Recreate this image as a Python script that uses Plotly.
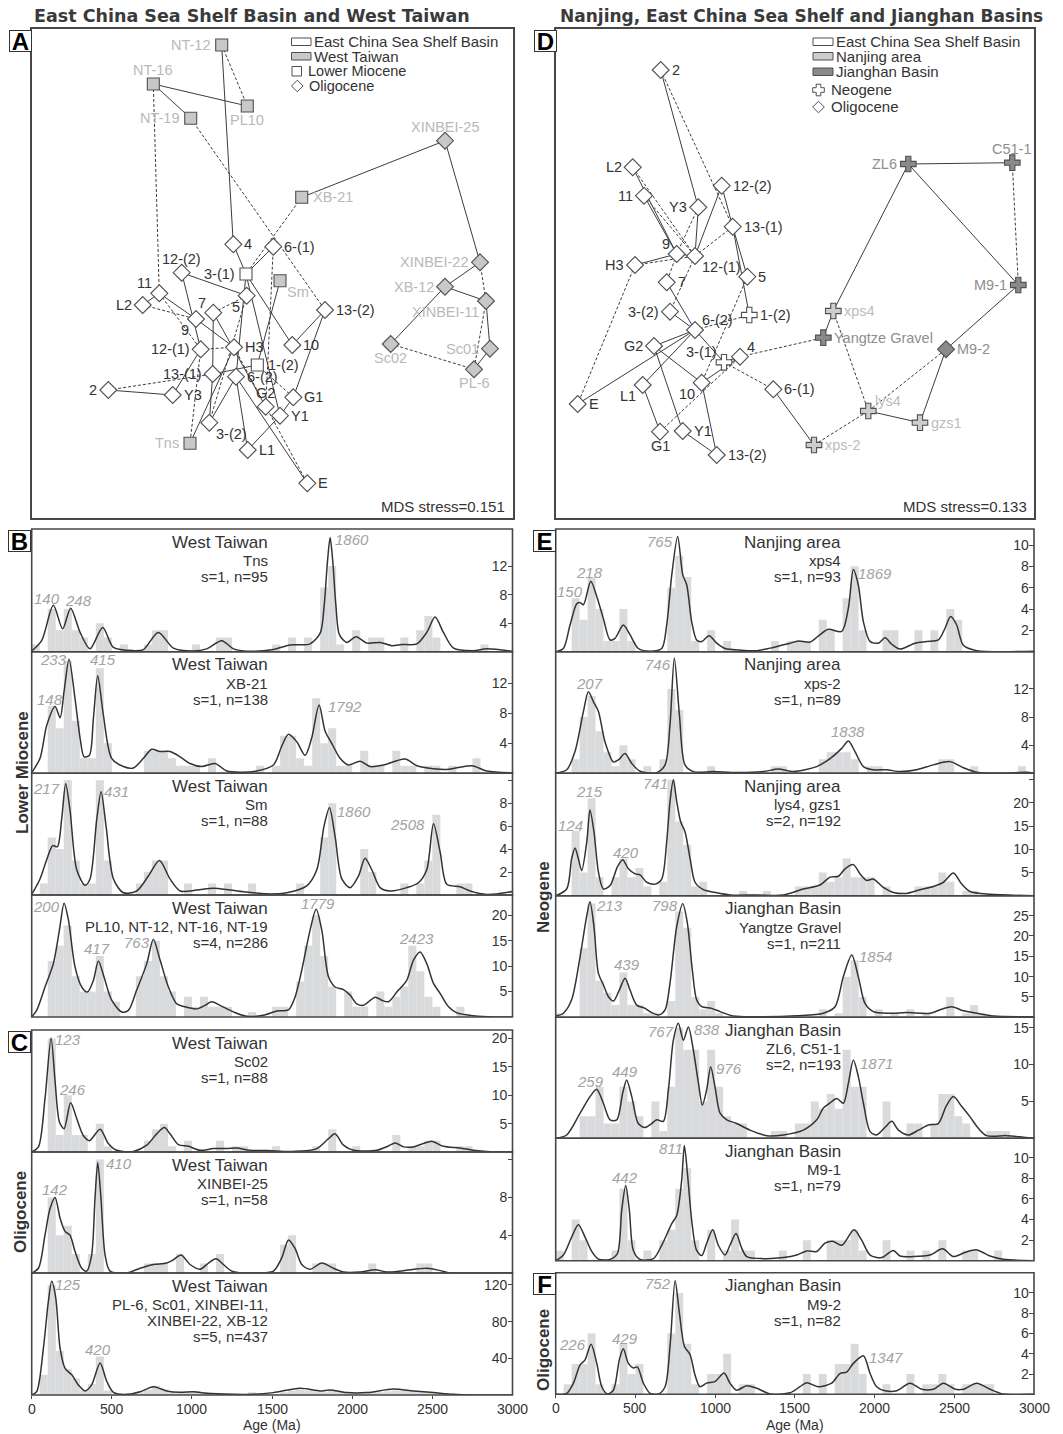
import plotly.graph_objects as go

W, H = 1063, 1434
FONT = "Liberation Sans, Arial, Helvetica, sans-serif"
TITLE_FONT = "DejaVu Sans, Liberation Sans, Arial, sans-serif"
INK = "#333333"
FRAME = "#474747"
BAR = "#d9dadc"
PEAK = "#a3a3a3"

# ---------------- MDS data (coordinates) ----------------
# (label, dim1, dim2, group, era-symbol, label position)
A_POINTS = [
    ("NT-12", 221.7, 45, "WT", "square", "l"),
    ("NT-16", 153.3, 84, "WT", "square", "t"),
    ("PL10", 247.3, 106, "WT", "square", "b"),
    ("NT-19", 190.7, 118.3, "WT", "square", "l"),
    ("XINBEI-25", 445, 140.7, "WT", "diamond", "t"),
    ("XB-21", 301.7, 197.3, "WT", "square", "r"),
    ("4", 233.3, 244.3, "ECS", "diamond", "r"),
    ("6-(1)", 273.3, 246.7, "ECS", "diamond", "r"),
    ("XINBEI-22", 480, 262.3, "WT", "diamond", "l"),
    ("12-(2)", 181.7, 272.7, "ECS", "diamond", "t"),
    ("3-(1)", 246, 274, "ECS", "square", "l"),
    ("Sm", 280, 280.7, "WT", "square", "br"),
    ("XB-12", 445, 286.7, "WT", "diamond", "l"),
    ("11", 159.3, 293.3, "ECS", "diamond", "tl"),
    ("5", 246.7, 295.7, "ECS", "diamond", "bl"),
    ("XINBEI-11", 486, 301, "WT", "diamond", "bl"),
    ("L2", 142.7, 305, "ECS", "diamond", "l"),
    ("13-(2)", 325, 310, "ECS", "diamond", "r"),
    ("7", 213.3, 312.7, "ECS", "diamond", "tl"),
    ("9", 196, 319, "ECS", "diamond", "bl"),
    ("Sc02", 390.7, 344, "WT", "diamond", "b"),
    ("10", 292.3, 345, "ECS", "diamond", "r"),
    ("H3", 234, 347.3, "ECS", "diamond", "r"),
    ("12-(1)", 200.7, 349.3, "ECS", "diamond", "l"),
    ("Sc01", 490, 348.7, "WT", "diamond", "l"),
    ("1-(2)", 257.3, 365, "ECS", "square", "r"),
    ("PL-6", 474, 369.3, "WT", "diamond", "b"),
    ("13-(1)", 212.7, 374, "ECS", "diamond", "l"),
    ("6-(2)", 236, 376.7, "ECS", "diamond", "r"),
    ("2", 108.3, 390, "ECS", "diamond", "l"),
    ("Y3", 172.7, 395, "ECS", "diamond", "r"),
    ("G1", 293.3, 397.3, "ECS", "diamond", "r"),
    ("G2", 265.7, 406.7, "ECS", "diamond", "t"),
    ("Y1", 280, 415.7, "ECS", "diamond", "r"),
    ("3-(2)", 209.3, 422.7, "ECS", "diamond", "br"),
    ("Tns", 190, 443.3, "WT", "square", "l"),
    ("L1", 247.7, 450, "ECS", "diamond", "r"),
    ("E", 307.3, 483.3, "ECS", "diamond", "r"),
]
A_SOLID = [("NT-12", "4"), ("NT-16", "PL10"), ("NT-16", "NT-19"), ("XINBEI-25", "XB-21"),
           ("XINBEI-25", "XINBEI-22"), ("4", "3-(1)"), ("6-(1)", "3-(1)"), ("12-(2)", "5"),
           ("12-(2)", "12-(1)"), ("11", "L2"), ("11", "9"), ("9", "H3"), ("7", "13-(1)"),
           ("7", "G2"), ("3-(1)", "10"), ("3-(1)", "Y1"), ("Sm", "1-(2)"), ("13-(2)", "10"),
           ("13-(2)", "G1"), ("13-(1)", "1-(2)"), ("13-(1)", "3-(2)"), ("6-(2)", "3-(2)"),
           ("6-(2)", "L1"), ("6-(2)", "E"), ("2", "Y3"), ("Y3", "12-(1)"), ("Tns", "H3"),
           ("G1", "Y1"), ("Y1", "L1"), ("XB-12", "XINBEI-22"), ("XB-12", "XINBEI-11"),
           ("XB-12", "Sc02"), ("XINBEI-11", "Sc01"), ("Sc01", "PL-6"), ("3-(1)", "6-(2)")]
A_DASHED = [("NT-12", "PL10"), ("NT-16", "11"), ("NT-19", "13-(2)"), ("XB-21", "3-(1)"),
            ("6-(1)", "G2"), ("L2", "9"), ("11", "12-(1)"), ("7", "5"), ("12-(1)", "H3"),
            ("12-(1)", "Tns"), ("H3", "E"), ("2", "13-(1)"), ("XINBEI-22", "XINBEI-11"),
            ("XINBEI-11", "PL-6"), ("Sc02", "PL-6"), ("5", "3-(2)"), ("1-(2)", "G1")]

D_POINTS = [
    ("2", 660.7, 70, "ECS", "diamond", "r"),
    ("C51-1", 1012.3, 162.7, "JH", "cross", "t"),
    ("ZL6", 908.3, 164, "JH", "cross", "l"),
    ("L2", 632.7, 167.3, "ECS", "diamond", "l"),
    ("12-(2)", 721.7, 185.7, "ECS", "diamond", "r"),
    ("11", 644, 195.7, "ECS", "diamond", "l"),
    ("Y3", 698.3, 207.3, "ECS", "diamond", "l"),
    ("13-(1)", 732.7, 226.7, "ECS", "diamond", "r"),
    ("9", 676.7, 254, "ECS", "diamond", "tl"),
    ("12-(1)", 695, 256, "ECS", "diamond", "br"),
    ("H3", 635, 265, "ECS", "diamond", "l"),
    ("5", 747.3, 276.7, "ECS", "diamond", "r"),
    ("M9-1", 1018.3, 285, "JH", "cross", "l"),
    ("7", 666.7, 282.3, "ECS", "diamond", "r"),
    ("xps4", 833.3, 311, "NJ", "cross", "r"),
    ("3-(2)", 670, 311.7, "ECS", "diamond", "l"),
    ("1-(2)", 749.3, 315, "ECS", "cross", "r"),
    ("6-(2)", 695, 330, "ECS", "diamond", "tr"),
    ("Yangtze Gravel", 823.3, 337.7, "JH", "cross", "r"),
    ("G2", 654, 346, "ECS", "diamond", "l"),
    ("M9-2", 946, 349.3, "JH", "diamond", "r"),
    ("4", 740, 356.7, "ECS", "diamond", "tr"),
    ("3-(1)", 724, 362.3, "ECS", "cross", "tl"),
    ("10", 701.7, 382.7, "ECS", "diamond", "bl"),
    ("L1", 642.7, 385, "ECS", "diamond", "bl"),
    ("6-(1)", 773.3, 389.3, "ECS", "diamond", "r"),
    ("E", 577.7, 404, "ECS", "diamond", "r"),
    ("lys4", 868.3, 411, "NJ", "cross", "tr"),
    ("gzs1", 920, 422.7, "NJ", "cross", "r"),
    ("G1", 660, 431.7, "ECS", "diamond", "b"),
    ("Y1", 682.7, 431, "ECS", "diamond", "r"),
    ("xps-2", 814, 445, "NJ", "cross", "r"),
    ("13-(2)", 716.7, 455, "ECS", "diamond", "r"),
]
D_SOLID = [("2", "Y3"), ("L2", "9"), ("Y3", "12-(1)"), ("12-(2)", "12-(1)"), ("12-(2)", "13-(1)"),
           ("13-(1)", "5"), ("13-(1)", "1-(2)"), ("H3", "9"), ("9", "12-(1)"), ("7", "6-(2)"),
           ("3-(2)", "6-(2)"), ("6-(2)", "3-(1)"), ("6-(2)", "G2"), ("6-(2)", "L1"), ("6-(2)", "E"),
           ("G2", "10"), ("G2", "Y1"), ("L1", "G1"), ("Y1", "13-(2)"), ("10", "4"),
           ("10", "13-(2)"), ("3-(1)", "4"), ("6-(1)", "xps-2"), ("xps4", "Yangtze Gravel"),
           ("xps4", "ZL6"), ("lys4", "gzs1"), ("gzs1", "M9-2"), ("M9-2", "M9-1"),
           ("ZL6", "M9-1"), ("ZL6", "C51-1"), ("11", "9")]
D_DASHED = [("2", "13-(1)"), ("L2", "12-(1)"), ("11", "12-(1)"), ("Y3", "9"), ("13-(1)", "12-(1)"),
            ("H3", "12-(1)"), ("H3", "E"), ("9", "7"), ("12-(1)", "3-(2)"), ("5", "10"),
            ("6-(2)", "1-(2)"), ("G1", "4"), ("4", "Yangtze Gravel"), ("3-(1)", "6-(1)"),
            ("xps-2", "lys4"), ("xps4", "lys4"), ("lys4", "M9-2"), ("C51-1", "M9-1")]

GROUP_FILL = {"ECS": "#ffffff", "WT": "#c8c8c8", "NJ": "#cdcdcd", "JH": "#8a8a8a"}
GROUP_TEXT = {"ECS": INK, "WT": "#b9b9b9", "NJ": "#bcbcbc", "JH": "#8e8e8e"}

# ---------------- KDE / histogram data ----------------
# curves: (age Ma, density in counts); histograms: {50-Ma bin index: count}
TNS_CURVE = [(0,0.1),(62,1.55),(135,6.5),(193,3.2),(243,6.1),(302,2.7),(364,0.4),(443,3.4),(510,0.6),(635,0.15),(697,0.3),(790,2.7),(884,0.5),(1009,0.1),(1092,0.4),(1186,1.55),(1259,0.4),(1383,0.05),(1508,0.3),(1612,0.95),(1737,1.1),(1800,2.6),(1825,6.5),(1845,12.5),(1862,16.0),(1878,12.8),(1898,6.5),(1920,2.4),(1966,1.3),(2024,2.1),(2091,1.2),(2174,1.3),(2247,0.85),(2309,1.0),(2403,1.1),(2465,2.7),(2517,4.85),(2569,2.7),(2632,0.5),(2756,0.15),(2840,0.4),(3000,0.05)]
TNS_HIST = {0:1,2:6,3:3,4:6,5:3,6:2,8:4,9:2,11:1,14:1,15:3,16:3,20:1,23:2,24:2,30:1,32:2,34:2,36:9,37:12,38:1,40:3,42:2,43:2,46:2,48:3,49:5,50:2,56:1}

XB21_CURVE = [(0,0.1),(52,2.0),(94,6.4),(146,8.9),(177,7.4),(202,10.9),(233,15.2),(270,10.0),(302,4.7),(327,2.2),(360,2.4),(385,7.3),(412,13.0),(447,7.8),(499,2.0),(572,0.9),(634,0.7),(697,2.0),(749,3.2),(801,2.9),(863,2.9),(926,2.2),(988,1.3),(1061,0.9),(1144,1.3),(1217,0.3),(1300,0.13),(1404,0.3),(1508,1.1),(1560,3.6),(1602,5.2),(1654,4.2),(1706,2.4),(1747,4.7),(1793,9.1),(1831,5.6),(1872,4.0),(1924,2.0),(1976,1.1),(2049,1.6),(2112,0.9),(2195,1.1),(2330,1.9),(2403,1.0),(2507,0.6),(2590,0.5),(2746,1.0),(2840,0.3),(3000,0.05)]
XB21_HIST = {2:9,3:6,4:15,5:7,6:2,7:2,8:14,9:4,14:3,15:3,16:3,17:2,18:1,19:1,20:1,22:2,28:1,30:1,31:5,32:5,33:2,34:1,35:10,36:4,37:6,38:1,39:1,41:3,42:1,43:1,45:3,46:1,47:1,49:1,50:1,52:1,55:2}

SM_CURVE = [(0,0.05),(52,1.4),(94,3.1),(131,4.3),(160,4.2),(187,6.6),(212,9.7),(239,7.4),(281,2.2),(333,0.85),(364,1.4),(406,6.6),(433,9.0),(464,6.0),(510,1.4),(572,0.2),(655,0.35),(728,1.65),(797,3.0),(863,1.4),(926,0.35),(1030,0.43),(1134,0.58),(1238,0.43),(1342,0.26),(1467,0.1),(1591,0.2),(1716,0.8),(1779,2.2),(1824,6.0),(1858,7.6),(1893,5.1),(1935,1.4),(1987,0.64),(2039,1.65),(2080,3.2),(2122,2.2),(2174,0.64),(2236,0.35),(2340,0.64),(2413,1.07),(2465,2.2),(2507,6.2),(2549,3.7),(2590,0.93),(2673,0.72),(2736,0.35),(2840,0.05),(3000,0.3)]
SM_HIST = {1:1,2:5,3:4,4:10,5:3,6:1,7:1,8:10,9:3,13:1,14:2,15:3,16:3,19:1,22:1,24:1,27:1,33:1,36:5,37:8,41:4,42:2,46:1,48:1,49:3,50:7,53:1,54:1}

PL10_CURVE = [(0,0),(31,1.3),(83,5.9),(135,10.5),(173,17.1),(202,22.4),(229,19.1),(270,9.9),(312,5.9),(347,4.9),(385,7.2),(416,11.0),(451,7.9),(499,3.3),(562,1.0),(603,1.3),(655,5.3),(718,10.5),(759,15.3),(801,11.2),(853,5.9),(905,2.6),(957,2.0),(1030,1.6),(1082,2.3),(1123,3.0),(1175,2.3),(1259,1.0),(1342,0.13),(1446,0.33),(1529,1.2),(1602,1.4),(1643,3.9),(1685,9.2),(1737,17.1),(1775,21.2),(1810,17.1),(1852,7.9),(1893,5.9),(1945,5.4),(1987,4.3),(2028,2.6),(2070,2.3),(2143,3.9),(2184,3.3),(2226,3.0),(2278,4.9),(2340,7.2),(2382,11.2),(2424,12.8),(2465,10.5),(2507,6.6),(2549,4.6),(2601,2.0),(2653,0.8),(2756,0.26),(2881,0),(3000,0)]
PL10_HIST = {2:11,3:14,4:18,5:8,6:5,7:5,8:12,9:5,10:3,13:8,14:11,15:15,16:8,17:5,19:4,20:2,21:4,22:2,23:2,24:2,27:1,30:2,31:2,33:7,34:14,35:20,36:12,37:6,39:5,40:2,41:2,43:5,44:2,45:4,46:6,47:14,48:9,49:4,50:2,53:2}

SC02_CURVE = [(0,0),(42,0.9),(83,9.4),(121,20.1),(146,12.4),(173,5.3),(202,4.1),(243,8.7),(281,5.9),(322,2.9),(360,2.0),(427,4.0),(478,1.5),(530,0.3),(634,0.1),(718,1.2),(780,3.2),(828,4.3),(863,3.2),(915,1.3),(978,1.0),(1051,0.3),(1134,0.6),(1217,0.6),(1279,0.7),(1363,0.3),(1467,0.25),(1633,0.1),(1779,0.6),(1852,2.35),(1893,3.2),(1945,1.2),(2008,0.3),(2153,0.3),(2226,1.05),(2268,1.6),(2320,0.9),(2382,0.9),(2444,1.5),(2496,1.9),(2569,1.0),(2673,0.7),(2756,0.3),(2881,0),(3000,0)]
SC02_HIST = {2:20,3:3,4:10,5:3,6:3,8:5,9:1,14:2,15:4,16:5,17:1,19:2,23:2,25:1,26:1,30:1,35:1,37:4,40:1,45:3,47:1,48:1,49:2,50:2,53:1,54:1}

XB25_CURVE = [(0,0),(42,0.5),(83,4.0),(114,6.8),(146,8.0),(177,5.8),(208,4.4),(239,4.0),(270,2.3),(312,0.5),(343,0.2),(374,1.9),(395,7.9),(412,11.7),(431,8.2),(458,1.9),(489,0.2),(593,0),(676,0.5),(759,0.9),(842,1.05),(884,1.4),(932,1.9),(988,0.9),(1051,0.4),(1103,1.05),(1150,1.5),(1196,0.9),(1248,0.2),(1383,0),(1508,0.2),(1560,1.6),(1602,3.5),(1643,2.6),(1685,0.9),(1737,0.4),(1810,1.05),(1883,0.5),(1945,0.1),(2049,0.1),(2143,0.35),(2216,0.1),(2320,0.25),(2465,0.5),(2549,0.25),(2611,0),(3000,0)]
XB25_HIST = {2:8,3:4,4:5,5:2,7:2,8:12,14:1,15:1,16:1,18:2,21:1,23:2,31:3,32:4,35:1,36:1,37:1,42:1,48:1,49:1}

PL6_CURVE = [(0,0),(31,3.6),(73,51),(104,102),(125,124),(150,106),(177,51),(208,29),(250,22),(291,11),(333,4.4),(374,11),(427,35),(468,15),(510,2.9),(593,0.7),(676,3.6),(759,9.1),(842,4.4),(926,2.9),(1009,3.6),(1092,1.8),(1259,0.7),(1383,0.7),(1508,2.6),(1675,7.3),(1800,4.4),(1862,5.5),(1966,2.6),(2091,2.6),(2257,6.6),(2382,4.4),(2507,2.6),(2632,0.7),(2756,0),(3000,0)]
PL6_HIST = {1:22,2:120,3:48,4:28,5:18,6:5,7:12,8:42,9:5,10:1,11:1,12:2,13:3,14:6,15:10,16:6,17:3,18:2,19:3,20:4,21:3,22:2,23:1,24:1,25:1,26:1,27:3,28:1,29:1,30:1,31:3,32:5,33:6,34:5,35:4,36:3,37:5,38:4,39:2,40:2,41:2,42:3,43:3,44:4,45:5,46:5,47:4,48:3,49:3,50:2,51:2,52:1,53:1}

XPS4_CURVE = [(0,0),(48,0.3),(90,2.5),(132,4.5),(153,4.6),(174,4.4),(220,6.6),(257,5.2),(299,3.1),(341,1.1),(372,1.25),(424,2.5),(466,1.6),(518,0.3),(592,0.05),(665,0.3),(696,2.5),(728,7.2),(765,10.8),(797,7.2),(822,6.25),(853,2.8),(884,1.1),(916,0.95),(962,1.5),(1010,0.8),(1062,0.3),(1156,0.15),(1261,0.1),(1365,0.4),(1470,0.8),(1522,1.0),(1595,0.9),(1658,1.6),(1710,2.1),(1794,1.9),(1836,4.1),(1867,7.7),(1898,6.25),(1930,2.8),(1972,0.95),(2024,0.8),(2066,1.3),(2108,0.7),(2160,0.25),(2254,0.8),(2327,0.95),(2400,1.1),(2442,2.2),(2477,3.3),(2515,2.5),(2557,0.6),(2641,0.1),(3000,0.05)]
XPS4_HIST = {2:5,3:3,4:7,5:4,6:1,7:1,8:4,9:1,14:6,15:9,16:7,17:1,19:2,21:1,27:1,29:1,30:1,31:1,33:3,34:2,36:5,37:8,38:2,41:2,42:2,45:2,47:2,49:4,50:3}

XPS2_CURVE = [(0,0),(69,0.5),(121,3.1),(174,8.8),(205,11.6),(236,10.2),(268,8.8),(309,4.5),(362,1.6),(393,1.9),(435,2.8),(477,1.4),(529,0.3),(634,0.1),(686,1.2),(717,6.9),(744,16.4),(776,8.3),(811,1.2),(864,0.24),(989,0.24),(1135,0.1),(1303,0.24),(1397,0.6),(1491,0.24),(1637,0.95),(1721,2.1),(1794,3.55),(1836,4.6),(1877,3.1),(1930,0.95),(1992,0.5),(2076,0.5),(2160,0.24),(2264,0.5),(2369,1.2),(2473,1.66),(2557,0.8),(2641,0.15),(2808,0),(2954,0.15),(3000,0)]
XPS2_HIST = {2:2,3:8,4:11,5:6,6:3,7:1,8:4,9:2,11:1,13:2,14:12,15:9,19:1,27:1,28:1,33:2,34:3,35:3,36:3,37:2,39:1,40:1,48:2,49:2,52:1,58:1}

LYS4_CURVE = [(0,0),(69,1.45),(100,8.0),(121,10.3),(142,8.0),(163,5.4),(195,11.6),(215,18.5),(240,13.8),(268,5.1),(299,1.45),(341,2.2),(387,6.2),(420,7.75),(456,5.8),(498,4.7),(529,4.5),(571,2.9),(623,2.5),(665,3.6),(696,11.6),(717,20.3),(738,25.0),(759,20.3),(784,15.9),(811,13.8),(843,8.0),(874,2.9),(926,1.3),(999,0.7),(1093,0.15),(1261,0.15),(1428,0.15),(1553,1.45),(1658,2.3),(1721,4.0),(1773,4.2),(1815,5.8),(1867,6.7),(1909,4.7),(1951,3.3),(1992,3.6),(2055,1.8),(2118,0.7),(2202,0.5),(2285,1.3),(2369,2.0),(2432,2.9),(2494,4.9),(2547,2.5),(2599,0.9),(2724,0.3),(3000,0)]
LYS4_HIST = {2:14,3:5,4:21,5:4,7:4,8:8,9:4,10:6,11:2,13:3,14:25,15:16,16:11,17:2,18:3,23:1,26:1,30:2,31:2,32:2,33:5,34:3,35:4,36:8,37:4,38:4,39:4,41:2,45:2,46:2,47:2,48:5,49:3,51:1,52:1}

YANGTZE_CURVE = [(0,0.3),(48,1.0),(100,4.3),(153,14.9),(194,24.8),(215,28.4),(240,22.3),(268,10.8),(299,8.0),(330,5.1),(362,4.0),(399,6.7),(435,9.6),(466,6.7),(508,3.0),(560,2.2),(602,1.15),(650,0.6),(686,1.8),(717,8.4),(759,22.3),(797,27.9),(826,23.1),(857,11.6),(884,4.3),(916,2.6),(978,2.2),(1031,1.4),(1114,0.3),(1303,0.15),(1512,0.4),(1679,1.0),(1752,2.6),(1804,10.0),(1857,15.3),(1898,10.0),(1940,3.4),(1992,1.4),(2097,1.0),(2202,1.15),(2348,1.0),(2421,2.0),(2484,2.6),(2557,1.6),(2641,1.0),(2745,0.3),(3000,0.15)]
YANGTZE_HIST = {0:1,3:17,4:28,5:9,6:6,7:3,8:11,9:3,10:3,11:1,12:1,14:4,15:26,16:22,17:5,18:2,19:4,20:1,33:2,35:1,36:10,37:14,38:5,40:2,42:1,44:2,46:1,49:5,51:1,52:3,53:1}

ZL6_CURVE = [(0,0),(69,0.45),(153,3.4),(215,5.65),(257,6.65),(299,4.75),(341,2.5),(383,2.5),(420,6.1),(445,7.9),(477,5.65),(518,2.0),(560,1.45),(602,2.0),(634,2.5),(675,2.3),(707,6.6),(738,13.3),(769,15.6),(801,13.3),(832,15.1),(863,12.0),(895,7.5),(920,4.5),(947,6.6),(972,9.7),(999,7.0),(1031,3.4),(1073,2.5),(1135,2.0),(1219,1.1),(1323,0.36),(1428,0.45),(1553,1.1),(1637,2.5),(1679,4.1),(1721,4.8),(1763,5.4),(1804,4.75),(1836,7.5),(1867,10.6),(1898,8.4),(1930,4.75),(1972,0.9),(2013,0.45),(2066,1.5),(2108,2.3),(2150,1.1),(2212,0.45),(2275,1.1),(2337,1.8),(2400,2.0),(2448,4.3),(2494,5.65),(2547,4.3),(2599,2.9),(2651,1.35),(2703,0.36),(2829,0.36),(2933,0.15),(3000,0)]
ZL6_HIST = {3:3,4:3,5:7,6:2,7:2,8:7,9:5,10:3,12:5,13:1,14:7,15:15,16:12,17:12,18:5,19:12,20:7,21:3,22:2,23:2,27:1,28:1,30:2,31:2,32:5,33:4,34:6,35:4,36:12,37:7,38:7,41:5,44:2,45:2,47:2,48:6,49:6,50:3,51:2,54:1,55:1,56:1}

M91_CURVE = [(0,0),(48,0.55),(100,2.3),(142,3.5),(184,2.3),(226,0.9),(268,0.15),(341,0.13),(387,0.7),(414,4.9),(439,7.3),(462,4.9),(487,1.0),(529,0.13),(613,0.2),(665,1.5),(728,3.6),(759,4.4),(790,7.8),(807,11.2),(828,8.2),(853,3.9),(884,1.0),(916,0.5),(947,1.7),(985,3.0),(1020,1.5),(1062,0.55),(1093,1.5),(1131,2.65),(1167,1.2),(1198,0.4),(1303,0.2),(1428,0.3),(1512,0.55),(1574,0.95),(1637,0.9),(1689,1.7),(1737,1.9),(1794,1.5),(1871,3.0),(1919,2.0),(1972,0.55),(2045,0.3),(2118,1.0),(2160,0.45),(2243,0.4),(2348,0.55),(2427,1.15),(2494,0.4),(2567,0.8),(2641,1.05),(2724,0.45),(2808,0.13),(3000,0)]
M91_HIST = {0:1,2:4,3:2,7:1,8:7,9:2,11:1,13:2,14:3,15:7,16:9,17:2,19:3,21:1,22:4,23:1,24:1,28:1,31:2,34:2,35:2,36:2,37:3,38:1,41:2,44:1,46:1,48:2,51:1,52:1,55:1}

M92_CURVE = [(0,0),(69,0.1),(111,1.1),(153,2.9),(184,3.4),(222,4.95),(257,3.1),(289,0.75),(324,0.03),(362,0.4),(399,3.4),(424,4.5),(456,3.05),(487,2.6),(512,2.7),(550,1.1),(592,0.1),(644,0.03),(686,0.75),(717,4.7),(749,11.2),(776,8.0),(807,4.75),(843,3.9),(874,1.9),(905,0.75),(947,1.1),(999,1.25),(1056,2.1),(1093,1.1),(1135,0.4),(1198,0.85),(1261,0.6),(1344,0.03),(1470,0.15),(1532,0.75),(1574,1.15),(1647,0.75),(1731,1.1),(1783,2.05),(1825,2.2),(1867,3.05),(1930,3.8),(1972,2.05),(2013,0.75),(2066,0.35),(2139,0.35),(2222,1.1),(2296,0.5),(2369,0.5),(2432,1.1),(2505,0.5),(2557,0.5),(2641,1.1),(2724,0.5),(2808,0.03),(3000,0)]
M92_HIST = {1:1,2:3,3:3,4:6,5:1,7:1,8:5,9:2,10:3,14:6,15:10,16:5,17:1,19:2,20:2,21:4,23:1,24:1,31:2,33:2,35:3,36:3,37:5,38:2,41:1,44:2,46:1,47:1,48:2,49:1,51:1,52:1,53:1,54:1}

BIN_WIDTH = 50
AGE_TICKS = [0, 500, 1000, 1500, 2000, 2500, 3000]

# panel specs: (curve, hist, ymax, yticks, text lines, peak labels [(age, value, text)])
LEFT_PANELS = [
    (TNS_CURVE, TNS_HIST, 17.2, [4, 8, 12], ["West Taiwan", "Tns", "s=1, n=95"],
     [(94, 7.4, "140"), (291, 7.2, "248"), (1997, 15.7, "1860")]),
    (XB21_CURVE, XB21_HIST, 16.2, [4, 8, 12], ["West Taiwan", "XB-21", "s=1, n=138"],
     [(139, 15.1, "233"), (443, 15.1, "415"), (114, 9.8, "148"), (1955, 8.9, "1792")]),
    (SM_CURVE, SM_HIST, 10.6, [2, 4, 6, 8, 10], ["West Taiwan", "Sm", "s=1, n=88"],
     [(94, 9.3, "217"), (530, 9.0, "431"), (2012, 7.3, "1860"), (2345, 6.1, "2508")]),
    (PL10_CURVE, PL10_HIST, 24, [5, 10, 15, 20], ["West Taiwan", "PL10, NT-12, NT-16, NT-19", "s=4, n=286"],
     [(94, 21.7, "200"), (406, 13.5, "417"), (655, 14.6, "763"), (1789, 22.4, "1779"), (2403, 15.5, "2423")]),
    (SC02_CURVE, SC02_HIST, 21.5, [5, 10, 15, 20], ["West Taiwan", "Sc02", "s=1, n=88"],
     [(229, 19.9, "123"), (256, 11.1, "246")]),
    (XB25_CURVE, XB25_HIST, 12.8, [4, 8, 12], ["West Taiwan", "XINBEI-25", "s=1, n=58"],
     [(146, 8.85, "142"), (547, 11.6, "410")]),
    (PL6_CURVE, PL6_HIST, 133, [40, 80, 120], ["West Taiwan", "PL-6, Sc01, XINBEI-11,", "XINBEI-22, XB-12", "s=5, n=437"],
     [(229, 120, "125"), (416, 49.6, "420")]),
]
RIGHT_PANELS = [
    (XPS4_CURVE, XPS4_HIST, 11.5, [2, 4, 6, 8, 10], ["Nanjing area", "xps4", "s=1, n=93"],
     [(654, 10.3, "765"), (215, 7.4, "218"), (90, 5.6, "150"), (2003, 7.3, "1869")]),
    (XPS2_CURVE, XPS2_HIST, 17.3, [4, 8, 12], ["Nanjing area", "xps-2", "s=1, n=89"],
     [(644, 15.5, "746"), (211, 12.8, "207"), (1836, 5.9, "1838")]),
    (LYS4_CURVE, LYS4_HIST, 26.4, [5, 10, 15, 20, 25], ["Nanjing area", "lys4, gzs1", "s=2, n=192"],
     [(629, 24.1, "741"), (211, 22.5, "215"), (90, 15.2, "124"), (441, 9.4, "420")]),
    (YANGTZE_CURVE, YANGTZE_HIST, 29.9, [5, 10, 15, 20, 25], ["Jianghan Basin", "Yangtze Gravel", "s=1, n=211"],
     [(337, 27.6, "213"), (686, 27.6, "798"), (450, 12.9, "439"), (2003, 14.9, "1854")]),
    (ZL6_CURVE, ZL6_HIST, 16.4, [5, 10, 15], ["Jianghan Basin", "ZL6, C51-1", "s=2, n=193"],
     [(659, 14.5, "767"), (947, 14.7, "838"), (1087, 9.5, "976"), (220, 7.7, "259"), (435, 9.05, "449"), (2013, 10.2, "1871")]),
    (M91_CURVE, M91_HIST, 11.9, [2, 4, 6, 8, 10], ["Jianghan Basin", "M9-1", "s=1, n=79"],
     [(723, 10.9, "811"), (435, 8.1, "442")]),
    (M92_CURVE, M92_HIST, 12.0, [2, 4, 6, 8, 10], ["Jianghan Basin", "M9-2", "s=1, n=82"],
     [(644, 10.9, "752"), (107, 4.95, "226"), (435, 5.5, "429"), (2072, 3.6, "1347")]),
]

# ---------------- layout geometry (pixels) ----------------
LEFT_X = (31.7, 512.5)
RIGHT_X = (555.7, 1034.0)
MDS_Y = (29.0, 517.5)
LEFT_ROWS = [(529, 651.7), (651.7, 773.3), (773.3, 895), (895, 1017), (1030, 1152), (1152, 1273), (1273, 1395)]
RIGHT_ROWS = [(529, 651.7), (651.7, 773.3), (773.3, 895.7), (895.7, 1017.3), (1017.3, 1138.3), (1138.3, 1260.7), (1272.7, 1394.3)]
TEXT_OFFSETS = [13, 31.5, 47.5, 63.5]


def fx(p):
    return p / W


def fy(p):
    return 1 - p / H


def names(n):
    s = "" if n == 1 else str(n)
    return "xaxis" + s, "yaxis" + s, "x" + s, "y" + s


fig = go.Figure()
lay = {}
ann = []
shapes = []


def frame_axis(**kw):
    d = dict(showgrid=False, zeroline=False, showline=True, mirror=True, linecolor=FRAME, linewidth=1.6)
    d.update(kw)
    return d


# ---------------- MDS panels ----------------
LABEL_POS = {
    "r": (9, 0, "left", "middle"), "l": (-9, 0, "right", "middle"),
    "t": (0, 14, "center", "middle"), "b": (0, -14, "center", "middle"),
    "tl": (-5, 10, "right", "middle"), "tr": (5, 10, "left", "middle"),
    "bl": (-5, -11, "right", "middle"), "br": (5, -11, "left", "middle"),
}
SYMBOL_SIZE = {"square": 12, "diamond": 13, "cross": 13}


def draw_mds(n, xr_px, points, solid, dashed):
    xa, ya, xr, yr = names(n)
    lay[xa] = frame_axis(domain=[fx(xr_px[0]), fx(xr_px[1])], range=[xr_px[0], xr_px[1]],
                         anchor=yr, showticklabels=False, ticks="")
    lay[ya] = frame_axis(domain=[fy(MDS_Y[1]), fy(MDS_Y[0])], range=[MDS_Y[1], MDS_Y[0]],
                         anchor=xr, showticklabels=False, ticks="")
    pos = {p[0]: (p[1], p[2]) for p in points}
    for edges, dash in ((dashed, "3px,2px"), (solid, "solid")):
        ex, ey = [], []
        for a, b in edges:
            ex += [pos[a][0], pos[b][0], None]
            ey += [pos[a][1], pos[b][1], None]
        fig.add_trace(go.Scatter(x=ex, y=ey, mode="lines", xaxis=xr, yaxis=yr, showlegend=False,
                                 hoverinfo="skip", line=dict(color="#3d3d3d", width=1, dash=dash)))
    for p in points:
        label, x, y, grp, sym, lp = p
        fig.add_trace(go.Scatter(
            x=[x], y=[y], mode="markers", xaxis=xr, yaxis=yr, showlegend=False,
            marker=dict(symbol=sym, size=SYMBOL_SIZE[sym], color=GROUP_FILL[grp],
                        line=dict(color="#505050", width=1.1))))
        dx, dy, xa_, ya_ = LABEL_POS[lp]
        ann.append(dict(x=x, y=y, xref=xr, yref=yr, text=label, showarrow=False,
                        xshift=dx, yshift=dy, xanchor=xa_, yanchor=ya_,
                        font=dict(size=14.5, color=GROUP_TEXT[grp], family=FONT)))


draw_mds(1, LEFT_X, A_POINTS, A_SOLID, A_DASHED)
draw_mds(2, RIGHT_X, D_POINTS, D_SOLID, D_DASHED)


def legend_text(xref, yref, x, y, text, size=15):
    ann.append(dict(x=x, y=y, xref=xref, yref=yref, text=text, showarrow=False, xanchor="left",
                    yanchor="middle", font=dict(size=size, color=INK, family=FONT)))


def diamond_path(cx, cy, r):
    return f"M{cx},{cy - r} L{cx + r},{cy} L{cx},{cy + r} L{cx - r},{cy} Z"


def cross_path(cx, cy, a, L):
    pts = [(cx - a, cy - L), (cx + a, cy - L), (cx + a, cy - a), (cx + L, cy - a), (cx + L, cy + a),
           (cx + a, cy + a), (cx + a, cy + L), (cx - a, cy + L), (cx - a, cy + a), (cx - L, cy + a),
           (cx - L, cy - a), (cx - a, cy - a)]
    return "M" + " L".join(f"{px},{py}" for px, py in pts) + " Z"


LEG_LINE = dict(color="#505050", width=1)
# legend A
shapes.append(dict(type="rect", xref="x", yref="y", x0=291.5, x1=311, y0=38, y1=45.5, fillcolor="#ffffff", line=LEG_LINE))
shapes.append(dict(type="rect", xref="x", yref="y", x0=291.5, x1=311, y0=52.5, y1=60, fillcolor=GROUP_FILL["WT"], line=LEG_LINE))
shapes.append(dict(type="rect", xref="x", yref="y", x0=292, x1=301.5, y0=66.5, y1=76, fillcolor="#ffffff", line=LEG_LINE))
shapes.append(dict(type="path", xref="x", yref="y", path=diamond_path(297.3, 86, 5.8), fillcolor="#ffffff", line=LEG_LINE))
legend_text("x", "y", 311.5, 41.7, "East China Sea Shelf Basin")
legend_text("x", "y", 311.5, 56.3, "West Taiwan")
legend_text("x", "y", 305.5, 71, "Lower Miocene", 14.5)
legend_text("x", "y", 306.5, 86, "Oligocene", 14.5)
# legend D
shapes.append(dict(type="rect", xref="x2", yref="y2", x0=813, x1=833, y0=38, y1=45.5, fillcolor="#ffffff", line=LEG_LINE))
shapes.append(dict(type="rect", xref="x2", yref="y2", x0=813, x1=833, y0=52.5, y1=60, fillcolor=GROUP_FILL["NJ"], line=LEG_LINE))
shapes.append(dict(type="rect", xref="x2", yref="y2", x0=813, x1=833, y0=68, y1=75.5, fillcolor=GROUP_FILL["JH"], line=LEG_LINE))
shapes.append(dict(type="path", xref="x2", yref="y2", path=cross_path(818.5, 90, 2.3, 5.8), fillcolor="#ffffff", line=LEG_LINE))
shapes.append(dict(type="path", xref="x2", yref="y2", path=diamond_path(818.5, 107, 5.8), fillcolor="#ffffff", line=LEG_LINE))
legend_text("x2", "y2", 833.5, 41.7, "East China Sea Shelf Basin")
legend_text("x2", "y2", 833.5, 56.3, "Nanjing area")
legend_text("x2", "y2", 833.5, 71.7, "Jianghan Basin")
legend_text("x2", "y2", 829, 90, "Neogene")
legend_text("x2", "y2", 829, 107, "Oligocene")

for xr, xpx in (("x", 507), ("x2", 1029)):
    ann.append(dict(x=xpx, y=507, xref=xr, yref="y" if xr == "x" else "y2",
                    text="MDS stress=0.151" if xr == "x" else "MDS stress=0.133",
                    showarrow=False, xanchor="right", yanchor="middle",
                    font=dict(size=15, color=INK, family=FONT)))

# ---------------- KDE panels ----------------


def draw_kde(n, xr_px, row, spec, show_x, text_right_px):
    curve, hist, ymax, yticks, lines, peaks = spec
    xa, ya, xr, yr = names(n)
    top, bottom = row
    lay[xa] = dict(showgrid=False, zeroline=False, showline=False, anchor=yr,
                   domain=[fx(xr_px[0]), fx(xr_px[1])], range=[0, 3000],
                   tickvals=AGE_TICKS, showticklabels=False,
                   ticks="outside" if show_x else "", ticklen=3, tickcolor=FRAME)
    lay[ya] = dict(showgrid=False, zeroline=False, showline=False,
                   domain=[fy(bottom), fy(top)], range=[0, ymax], anchor=xr, side="right",
                   tickvals=yticks, ticks="inside", ticklen=5, tickcolor=FRAME,
                   ticklabelposition="inside",
                   tickfont=dict(size=14, color=INK, family=FONT))
    shapes.append(dict(type="rect", xref="paper", yref="paper", x0=fx(xr_px[0]), x1=fx(xr_px[1]),
                       y0=fy(bottom), y1=fy(top), line=dict(color=FRAME, width=1.6),
                       fillcolor="rgba(0,0,0,0)", layer="above"))
    if show_x:
        # age tick labels placed on the axis scale (text only)
        for t in AGE_TICKS:
            ann.append(dict(x=t, y=fy(bottom + 14), xref=xr, yref="paper", text=str(t),
                            showarrow=False, xanchor="center", yanchor="middle",
                            font=dict(size=14, color=INK, family=FONT)))
    bins = sorted(hist)
    fig.add_trace(go.Bar(x=[b * BIN_WIDTH + BIN_WIDTH / 2 for b in bins], y=[hist[b] for b in bins],
                         width=BIN_WIDTH, marker=dict(color=BAR, line=dict(width=0)),
                         xaxis=xr, yaxis=yr, showlegend=False, hoverinfo="skip"))
    fig.add_trace(go.Scatter(x=[c[0] for c in curve], y=[c[1] for c in curve], mode="lines",
                             xaxis=xr, yaxis=yr, showlegend=False,
                             line=dict(color="#333333", width=1.5, shape="spline", smoothing=0.8)))
    for i, t in enumerate(lines):
        ann.append(dict(x=fx(text_right_px), y=fy(top + TEXT_OFFSETS[i]), xref="paper", yref="paper",
                        text=t, showarrow=False, xanchor="right", yanchor="middle",
                        font=dict(size=17 if i == 0 else 15, color=INK, family=FONT)))
    for age, val, txt in peaks:
        ann.append(dict(x=age, y=val, xref=xr, yref=yr, text="<i>" + txt + "</i>", showarrow=False,
                        xanchor="center", yanchor="middle",
                        font=dict(size=15, color=PEAK, family=FONT)))


for i, spec in enumerate(LEFT_PANELS):
    draw_kde(3 + i, LEFT_X, LEFT_ROWS[i], spec, i == 6, 270)
for i, spec in enumerate(RIGHT_PANELS):
    draw_kde(10 + i, RIGHT_X, RIGHT_ROWS[i], spec, i == 6, 843)

# ---------------- titles, letters, group labels ----------------
ann.append(dict(x=fx(31.5), y=fy(16.5), xref="paper", yref="paper", showarrow=False, xanchor="left",
                yanchor="middle", text="<b>East China Sea Shelf Basin and West Taiwan</b>",
                font=dict(size=17.5, color="#3a3a3a", family=TITLE_FONT)))
ann.append(dict(x=fx(558), y=fy(16.5), xref="paper", yref="paper", showarrow=False, xanchor="left",
                yanchor="middle", text="<b>Nanjing, East China Sea Shelf and Jianghan Basins</b>",
                font=dict(size=17, color="#3a3a3a", family=TITLE_FONT)))

for letter, lx, ly in (("A", 8.5, 29.5), ("D", 533.5, 29.5), ("B", 8, 529.5), ("C", 8, 1030.5),
                       ("E", 533, 529.5), ("F", 533, 1273)):
    ann.append(dict(x=fx(lx), y=fy(ly), xref="paper", yref="paper", showarrow=False, xanchor="left",
                    yanchor="top", text="<b>" + letter + "</b>", width=21, height=20, borderpad=0,
                    bordercolor="#333333", borderwidth=1, bgcolor="#ffffff",
                    font=dict(size=24, color="#000000", family=FONT)))

for txt, gx, gy in (("Lower Miocene", 22, 773), ("Oligocene", 20, 1212),
                    ("Neogene", 543, 897), ("Oligocene", 543, 1350)):
    ann.append(dict(x=fx(gx), y=fy(gy), xref="paper", yref="paper", showarrow=False, textangle=-90,
                    xanchor="center", yanchor="middle", text="<b>" + txt + "</b>",
                    font=dict(size=17, color="#333333", family=FONT)))

for cx in (272, 795):
    ann.append(dict(x=fx(cx), y=fy(1425), xref="paper", yref="paper", showarrow=False,
                    xanchor="center", yanchor="middle", text="Age (Ma)",
                    font=dict(size=14, color=INK, family=FONT)))

fig.update_layout(width=W, height=H, autosize=False, margin=dict(l=0, r=0, t=0, b=0, pad=0),
                  paper_bgcolor="#ffffff", plot_bgcolor="#ffffff", barmode="overlay",
                  showlegend=False, font=dict(family=FONT, color=INK),
                  annotations=ann, shapes=shapes, **lay)
fig.write_html("out.html",
               config={"responsive": False, "displayModeBar": False},
               post_script="document.body.style.margin='0';document.body.style.overflow='hidden';")
